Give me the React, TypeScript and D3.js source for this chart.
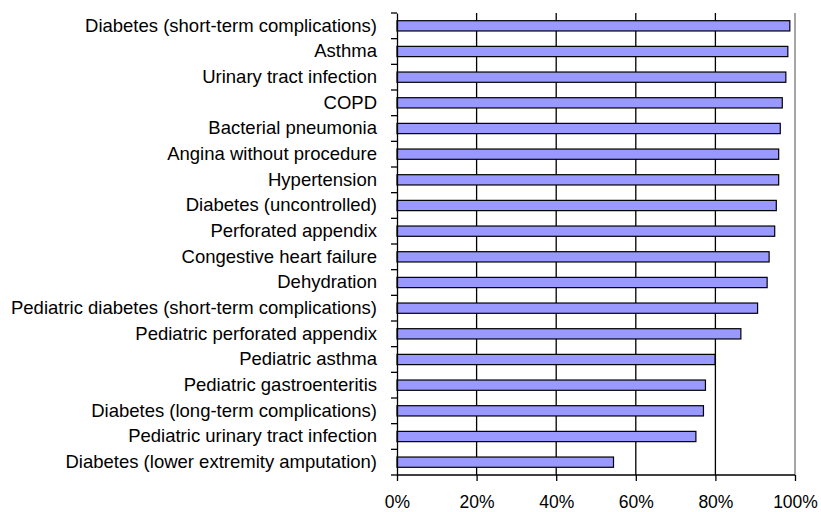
import { useEffect, useRef } from 'react';
import * as d3 from 'd3';

const categories = [
  'Diabetes (short-term complications)',
  'Asthma',
  'Urinary tract infection',
  'COPD',
  'Bacterial pneumonia',
  'Angina without procedure',
  'Hypertension',
  'Diabetes (uncontrolled)',
  'Perforated appendix',
  'Congestive heart failure',
  'Dehydration',
  'Pediatric diabetes (short-term complications)',
  'Pediatric perforated appendix',
  'Pediatric asthma',
  'Pediatric gastroenteritis',
  'Diabetes (long-term complications)',
  'Pediatric urinary tract infection',
  'Diabetes (lower extremity amputation)',
];

const values = [
  98.7, 98.2, 97.7, 96.8, 96.3, 95.9, 95.9, 95.3, 94.9, 93.5, 93.0, 90.6, 86.4,
  79.9, 77.5, 77.0, 75.1, 54.4,
];

const xTicks = [0, 20, 40, 60, 80, 100];

export default function App() {
  const svgRef = useRef<SVGSVGElement>(null);

  useEffect(() => {
    const width = 821;
    const height = 512;
    const margin = { top: 13, right: 26, bottom: 37, left: 397 };
    const innerWidth = width - margin.left - margin.right;
    const innerHeight = height - margin.top - margin.bottom;

    const svg = d3.select(svgRef.current);
    svg.selectAll('*').remove();

    const g = svg
      .append('g')
      .attr('transform', `translate(${margin.left},${margin.top})`);

    const x = d3.scaleLinear().domain([0, 100]).range([0, innerWidth]);
    const y = d3
      .scaleBand()
      .domain(categories)
      .range([0, innerHeight])
      .paddingInner(0.6)
      .paddingOuter(0.3);
    const yBand = d3.scaleBand().domain(categories).range([0, innerHeight]);

    // right frame
    g.append('line')
      .attr('x1', innerWidth)
      .attr('x2', innerWidth)
      .attr('y1', 0)
      .attr('y2', innerHeight)
      .attr('stroke', '#888')
      .attr('stroke-width', 1.5);

    // gridlines
    g.selectAll('.grid')
      .data(xTicks.filter((d) => d > 0 && d < 100))
      .enter()
      .append('line')
      .attr('x1', (d) => x(d))
      .attr('x2', (d) => x(d))
      .attr('y1', 0)
      .attr('y2', innerHeight)
      .attr('stroke', '#000')
      .attr('stroke-width', 1.3);

    // bars
    g.selectAll('.bar')
      .data(values)
      .enter()
      .append('rect')
      .attr('x', x(0))
      .attr('y', (d, i) => y(categories[i])!)
      .attr('width', (d) => x(d) - x(0))
      .attr('height', y.bandwidth())
      .attr('fill', '#9999ff')
      .attr('stroke', '#000')
      .attr('stroke-width', 1.2);

    // left axis
    const yAxis = g
      .append('g')
      .call(
        d3
          .axisLeft(yBand)
          .tickSize(0)
          .tickPadding(20)
      );
    yAxis.select('.domain').attr('stroke', '#000').attr('stroke-width', 1.3);
    yAxis
      .selectAll('text')
      .style('font-family', 'Liberation Sans, Arial, sans-serif')
      .style('font-size', '18.5px')
      .style('fill', '#000');

    // category separator ticks
    g.selectAll('.ytick')
      .data(d3.range(categories.length + 1))
      .enter()
      .append('line')
      .attr('x1', -6)
      .attr('x2', 0)
      .attr('y1', (i) => i * yBand.step())
      .attr('y2', (i) => i * yBand.step())
      .attr('stroke', '#000')
      .attr('stroke-width', 1.3);

    // bottom axis
    const xAxis = g
      .append('g')
      .attr('transform', `translate(0,${innerHeight})`)
      .call(
        d3
          .axisBottom(x)
          .tickValues(xTicks)
          .tickSize(6)
          .tickPadding(15)
          .tickFormat((d) => `${d}%`)
      );
    xAxis.select('.domain').attr('stroke', '#000').attr('stroke-width', 1.3).attr('d', `M0,0H${innerWidth}`);
    xAxis.selectAll('line').attr('stroke', '#000').attr('stroke-width', 1.3);
    xAxis
      .selectAll('text')
      .style('font-family', 'Liberation Sans, Arial, sans-serif')
      .style('font-size', '17.5px')
      .style('fill', '#000');
  }, []);

  return (
    <svg
      ref={svgRef}
      width={821}
      height={512}
      style={{ position: 'absolute', left: 0, top: 0, background: '#fff' }}
    />
  );
}
